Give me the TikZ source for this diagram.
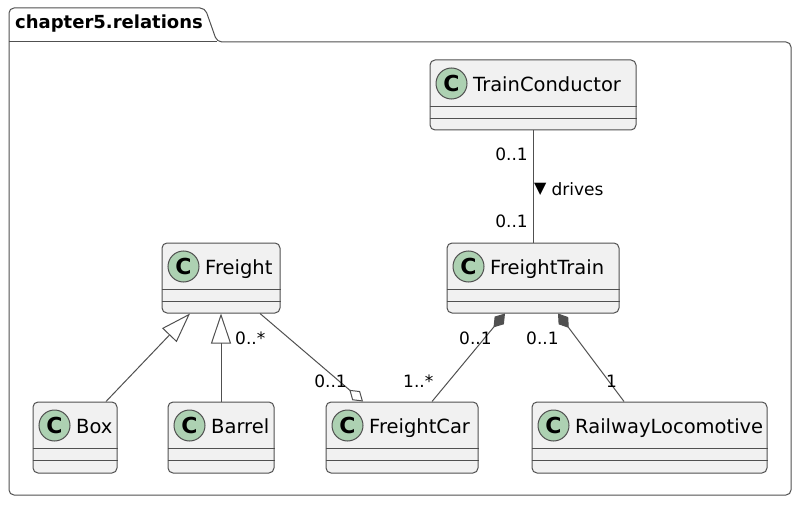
\documentclass[tikz,border=0pt]{standalone}
\usepackage{fontspec}
\setmainfont{DejaVu Sans}
\usetikzlibrary{arrows.meta}
\definecolor{linec}{RGB}{80,80,80}
\definecolor{boxfill}{HTML}{F1F1F1}
\definecolor{badge}{HTML}{ADD1B2}
\tikzset{
  classbox/.style={draw=linec, fill=boxfill, line width=1pt, rounded corners=5pt, inner sep=0pt},
  sepline/.style={draw=linec, line width=1pt},
  cbadge/.style={circle, draw=linec, fill=badge, line width=1pt, minimum size=31pt, inner sep=0pt, font=\fontsize{22}{22}\selectfont\bfseries},
  cname/.style={anchor=base west, inner sep=0pt, font=\fontsize{19.5}{22}\selectfont},
  mult/.style={inner sep=0pt, font=\fontsize{17}{20}\selectfont},
  conn/.style={draw=linec, line width=1pt},
  pkgline/.style={draw=linec, line width=1pt},
  pkgtitle/.style={anchor=base west, inner sep=0pt, font=\fontsize{18}{20}\selectfont\bfseries},
  gen/.style={conn, -{Triangle[open, length=30pt, width=20pt]}},
  aggr/.style={conn, -{Diamond[open, length=18pt, width=12pt]}},
  comp/.style={conn, {Diamond[length=18pt, width=12pt, fill=linec]}-},
}
\newcommand\ClassBox[6]{%
  \node[classbox, minimum width={(#4-#2)*1pt}, minimum height={(#5-#3)*1pt}] (#1) at ({(#2+#4)/2},{(#3+#5)/2}) {};
  \draw[sepline] ([yshift=-47pt]#1.north west) -- ([yshift=-47pt]#1.north east);
  \draw[sepline] ([yshift=-59pt]#1.north west) -- ([yshift=-59pt]#1.north east);
  \node[cbadge] (#1c) at ([xshift=22pt,yshift=-24pt]#1.north west) {C};
  \node[cname] (#1t) at ([xshift=43.5pt,yshift=-32pt]#1.north west) {#6};
}
\begin{document}
\begin{tikzpicture}[x=1pt, y=-1pt]
\useasboundingbox (0,0) rectangle (800,505);
% package
\draw[pkgline, rounded corners=5pt] (217,42) -- (791,42) -- (791,495) -- (9,495) -- (9,8) -- (205,8) -- cycle;
\draw[pkgline] (9,42) -- (217,42);
\node[pkgtitle] (title) at (15,29) {chapter5.relations};
% classes
\ClassBox{tc}{430}{60}{636}{130}{TrainConductor}
\ClassBox{freight}{162}{243}{280}{313}{Freight}
\ClassBox{ftrain}{447}{243}{619}{313}{FreightTrain}
\ClassBox{box}{33}{402}{117}{473}{Box}
\ClassBox{barrel}{168}{402}{274}{473}{Barrel}
\ClassBox{fcar}{326}{402}{478}{473}{FreightCar}
\ClassBox{rail}{532}{402}{767}{473}{RailwayLocomotive}
% connectors
\draw[conn] (tc.south) -- (ftrain.north);
\draw[gen] ([xshift=31pt]box.north) -- ([xshift=-31pt]freight.south);
\draw[gen] (barrel.north) -- (freight.south);
\draw[aggr] ([xshift=39pt]freight.south) -- ([xshift=-39pt]fcar.north);
\draw[comp] ([xshift=-28pt]ftrain.south) -- ([xshift=30pt]fcar.north);
\draw[comp] ([xshift=25pt]ftrain.south) -- ([xshift=-25.5pt]rail.north);
% labels
\node[mult, anchor=base east] (l1) at (528,161) {0..1};
\node[mult, anchor=base west] (l2) at (534,195.5) {\raisebox{2pt}{\fontsize{16}{16}\selectfont ▼}\hspace{5pt}drives};
\node[mult, anchor=base east] (l3) at (528,227) {0..1};
\node[mult, anchor=base west] (l4) at (235,344) {0..*};
\node[mult, anchor=base east] (l5) at (347,387) {0..1};
\node[mult, anchor=base west] (l6) at (403,387) {1..*};
\node[mult, anchor=base west] (l7) at (459,344) {0..1};
\node[mult, anchor=base west] (l8) at (526,344) {0..1};
\node[mult, anchor=base west] (l9) at (606,387) {1};
\end{tikzpicture}
\end{document}
